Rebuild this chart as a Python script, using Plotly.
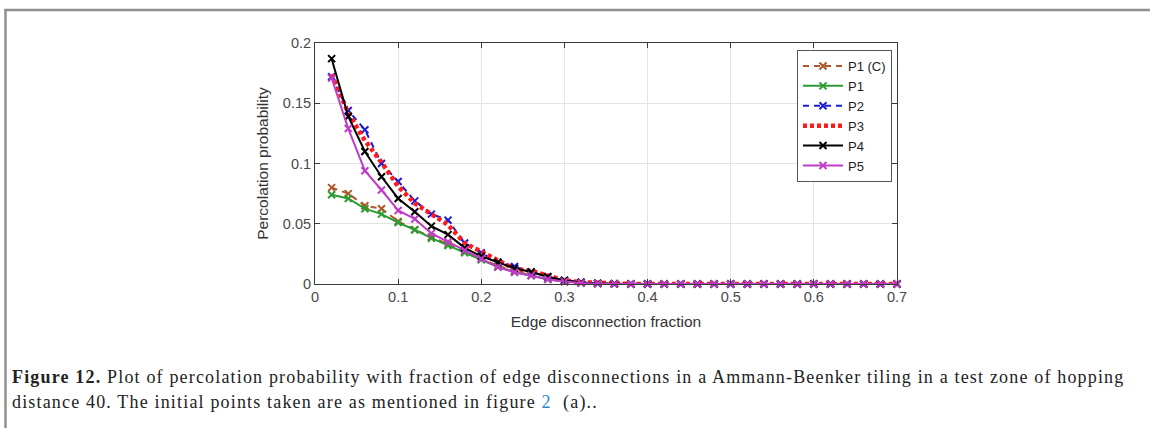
import plotly.graph_objects as go

# ---------------- data ----------------
edge_fraction = [0.02, 0.04, 0.06, 0.08, 0.10, 0.12, 0.14, 0.16, 0.18, 0.20,
                 0.22, 0.24, 0.26, 0.28, 0.30, 0.32, 0.34, 0.36, 0.38, 0.40,
                 0.42, 0.44, 0.46, 0.48, 0.50, 0.52, 0.54, 0.56, 0.58, 0.60,
                 0.62, 0.64, 0.66, 0.68, 0.70]

p1c = [0.080, 0.075, 0.065, 0.0625, 0.052, 0.045, 0.039, 0.033, 0.027, 0.021,
       0.015, 0.011, 0.007, 0.004, 0.002, 0.001, 0.0004, 0.0001, 0, 0,
       0, 0, 0, 0, 0, 0, 0, 0, 0, 0, 0, 0, 0, 0, 0]
p1 = [0.074, 0.071, 0.0625, 0.058, 0.051, 0.045, 0.038, 0.032, 0.026, 0.020,
      0.014, 0.010, 0.007, 0.004, 0.002, 0.001, 0.0004, 0.0001, 0, 0,
      0, 0, 0, 0, 0, 0, 0, 0, 0, 0, 0, 0, 0, 0, 0]
p2 = [0.172, 0.144, 0.128, 0.100, 0.085, 0.069, 0.058, 0.053, 0.034, 0.026,
      0.018, 0.0145, 0.010, 0.006, 0.003, 0.0015, 0.0006, 0.0002, 0, 0,
      0, 0, 0, 0, 0, 0, 0, 0, 0, 0, 0, 0, 0, 0, 0]
p3 = [0.174, 0.142, 0.119, 0.101, 0.081, 0.067, 0.058, 0.049, 0.034, 0.027,
      0.019, 0.0125, 0.011, 0.007, 0.003, 0.0015, 0.0008, 0.0003, 0, 0,
      0, 0, 0, 0, 0, 0, 0, 0, 0, 0, 0, 0, 0, 0, 0]
p4 = [0.187, 0.139, 0.110, 0.089, 0.071, 0.060, 0.048, 0.041, 0.030, 0.023,
      0.018, 0.013, 0.010, 0.006, 0.003, 0.0012, 0.0005, 0.0002, 0, 0,
      0, 0, 0, 0, 0, 0, 0, 0, 0, 0, 0, 0, 0, 0, 0]
p5 = [0.171, 0.129, 0.094, 0.078, 0.061, 0.054, 0.042, 0.035, 0.028, 0.021,
      0.014, 0.0097, 0.007, 0.004, 0.002, 0.0008, 0.0003, 0.0001, 0, 0,
      0, 0, 0, 0, 0, 0, 0, 0, 0, 0, 0, 0, 0, 0, 0]

series_names = ["P1 (C)", "P1", "P2", "P3", "P4", "P5"]
series_values = [p1c, p1, p2, p3, p4, p5]

x_ticks = [0, 0.1, 0.2, 0.3, 0.4, 0.5, 0.6, 0.7]
x_tick_labels = ["0", "0.1", "0.2", "0.3", "0.4", "0.5", "0.6", "0.7"]
y_ticks = [0, 0.05, 0.1, 0.15, 0.2]
y_tick_labels = ["0", "0.05", "0.1", "0.15", "0.2"]

caption_line1 = ("<b>Figure 12.</b> Plot of percolation probability with fraction of edge "
                 "disconnections in a Ammann-Beenker tiling in a test zone of hopping")
caption_line2 = ("distance 40. The initial points taken are as mentioned in figure "
                 "<span style='color:#2f8bd0'>2</span>  (a)..")

# ---------------- styles ----------------
styles = [
    dict(color="#b0562a", dash="6px,5px", width=2, marker=True),
    dict(color="#2e9a33", dash="solid", width=2, marker=True),
    dict(color="#1c1cd8", dash="6px,5px", width=2, marker=True),
    dict(color="#ff1a1a", dash="4px,3px", width=4.5, marker=False),
    dict(color="#000000", dash="solid", width=2, marker=True),
    dict(color="#c03cc8", dash="solid", width=2, marker=True),
]

fig = go.Figure()
for name, vals, st in zip(series_names, series_values, styles):
    fig.add_trace(go.Scatter(
        x=edge_fraction, y=vals, name=name,
        mode="lines+markers" if st["marker"] else "lines",
        line=dict(color=st["color"], dash=st["dash"], width=st["width"]),
        marker=dict(symbol="x-thin", size=7,
                    line=dict(color=st["color"], width=2)),
        cliponaxis=False,
    ))

# plot-area geometry (pixels)
FW, FH = 1150, 428
L, R, T, B = 315, 897, 43, 284
W, H = R - L, B - T


def px(xp):
    return (xp - L) / W


def py(yp):
    return (B - yp) / H


SANS = "Liberation Sans, Arial, sans-serif"
SERIF = "Liberation Serif, Times New Roman, serif"

axis_common = dict(
    showline=True, linecolor="#3a3a3a", linewidth=1, mirror="allticks",
    ticks="inside", ticklen=5, tickcolor="#3a3a3a",
    showgrid=True, gridcolor="#e3e3e3", gridwidth=1,
    zeroline=False,
    tickfont=dict(family=SANS, size=14.5, color="#4a4a4a"),
)

fig.update_layout(
    width=FW, height=FH,
    margin=dict(l=L, r=FW - R, t=T, b=FH - B),
    paper_bgcolor="white", plot_bgcolor="white",
    xaxis=dict(range=[0, 0.7], tickvals=x_ticks, ticktext=x_tick_labels,
               title=dict(text="Edge disconnection fraction", standoff=11,
                          font=dict(family=SANS, size=15.5, color="#333333")),
               **axis_common),
    yaxis=dict(range=[0, 0.2], tickvals=y_ticks, ticktext=y_tick_labels,
               title=dict(text="Percolation probability", standoff=10,
                          font=dict(family=SANS, size=15.5, color="#333333")),
               **axis_common),
    legend=dict(x=px(892), y=py(50), xanchor="right", yanchor="top",
                bgcolor="white", bordercolor="#555555", borderwidth=1,
                font=dict(family=SANS, size=13, color="#222222"),
                tracegroupgap=0, itemwidth=40),
    showlegend=True,
    shapes=[
        dict(type="line", xref="paper", yref="paper",
             x0=px(4.5), x1=px(1152), y0=py(10), y1=py(10),
             line=dict(color="#8f8f8f", width=2.5)),
        dict(type="line", xref="paper", yref="paper",
             x0=px(5.5), x1=px(5.5), y0=py(9), y1=py(430),
             line=dict(color="#8f8f8f", width=2.5)),
    ],
    annotations=[
        dict(xref="paper", yref="paper", x=px(10), y=py(377),
             xanchor="left", yanchor="middle", showarrow=False, align="left",
             text="<span style='letter-spacing:1.17px'>" + caption_line1 + "</span>",
             font=dict(family=SERIF, size=18, color="#222222")),
        dict(xref="paper", yref="paper", x=px(10), y=py(402),
             xanchor="left", yanchor="middle", showarrow=False, align="left",
             text="<span style='letter-spacing:1.17px'>" + caption_line2 + "</span>",
             font=dict(family=SERIF, size=18, color="#222222")),
    ],
)

fig.write_html("out.html",
               config={"displayModeBar": False},
               post_script="document.body.style.margin='0';document.body.style.overflow='hidden';")
